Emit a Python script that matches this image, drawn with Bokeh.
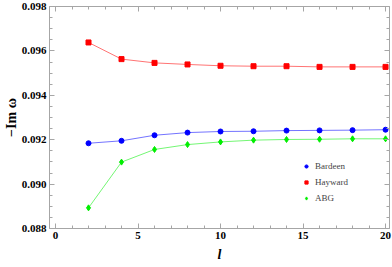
from bokeh.plotting import figure
from bokeh.models import (LinearAxis, FixedTicker, PrintfTickFormatter, Range1d,
                          Legend, LegendItem)
from bokeh.embed import file_html
from bokeh.resources import INLINE

l_vals = [2, 4, 6, 8, 10, 12, 14, 16, 18, 20]
bardeen = [0.09184, 0.09195, 0.09220, 0.09232, 0.09237, 0.09238, 0.09241, 0.09242, 0.09243, 0.09245]
hayward = [0.09638, 0.09563, 0.09546, 0.09539, 0.09533, 0.09531, 0.09531, 0.09528, 0.09528, 0.09528]
abg = [0.08893, 0.09099, 0.09156, 0.09178, 0.09190, 0.09198, 0.09201, 0.09202, 0.09204, 0.09204]

x_ticks = [0, 5, 10, 15, 20]
x_minor = list(range(0, 21))
y_ticks = [0.088, 0.090, 0.092, 0.094, 0.096, 0.098]
y_minor = [0.088 + 0.0005 * i for i in range(21)]

p = figure(width=392, height=267, output_backend="svg", toolbar_location=None,
           x_range=Range1d(-0.364, 20.24), y_range=Range1d(0.088, 0.098),
           min_border_left=49, min_border_right=3, min_border_top=6, min_border_bottom=39,
           x_axis_location=None, y_axis_location=None)
p.grid.visible = False
p.outline_line_color = None
p.background_fill_color = "white"

FRAME = "#a6a6a6"
FONT = "Liberation Serif"

def style(ax, labels=True):
    ax.axis_line_color = FRAME
    ax.major_tick_line_color = FRAME
    ax.minor_tick_line_color = FRAME
    ax.major_tick_in = 5
    ax.major_tick_out = 0
    ax.minor_tick_in = 3
    ax.minor_tick_out = 0
    ax.major_label_text_font = FONT
    ax.major_label_text_font_style = "bold"
    ax.major_label_text_color = "black"
    if labels:
        ax.major_label_text_font_size = "11px"
        ax.major_label_standoff = 3
    else:
        ax.major_label_overrides = {t: "" for t in ax.ticker.ticks}
        ax.major_label_standoff = 0
    ax.axis_label_text_font = FONT
    ax.axis_label_text_font_style = "bold"
    ax.axis_label_text_font_size = "14px"
    ax.axis_label_text_color = "black"

xb = LinearAxis(ticker=FixedTicker(ticks=x_ticks, minor_ticks=x_minor), axis_label="l")
style(xb)
xb.axis_label_text_font_style = "bold italic"
xb.axis_label_standoff = 5
xt = LinearAxis(ticker=FixedTicker(ticks=x_ticks, minor_ticks=x_minor))
style(xt, labels=False)
yl = LinearAxis(ticker=FixedTicker(ticks=y_ticks, minor_ticks=y_minor), axis_label="\u2212Im \u03c9",
                formatter=PrintfTickFormatter(format="%.3f"))
style(yl)
yl.axis_label_standoff = 0
yr = LinearAxis(ticker=FixedTicker(ticks=y_ticks, minor_ticks=y_minor))
style(yr, labels=False)

p.add_layout(xb, "below")
p.add_layout(xt, "above")
p.add_layout(yl, "left")
p.add_layout(yr, "right")

series = [("Bardeen", bardeen, "#0000ff", "circle"),
          ("Hayward", hayward, "#ff0000", "square"),
          ("ABG", abg, "#00ee00", "diamond")]
items = []
for name, ys, col, mk in series:
    p.line(l_vals, ys, line_color=col, line_width=1, line_alpha=0.55)
    sz = 6 if mk == "diamond" else 5
    r = p.scatter(l_vals, ys, marker=mk, size=sz, fill_color=col, line_color=col)
    items.append(LegendItem(label=name, renderers=[r]))

leg = Legend(items=items, location=(253, 25), border_line_color=None,
             background_fill_alpha=0, padding=0, margin=0, spacing=6,
             glyph_width=8, glyph_height=10, label_height=10, label_standoff=5,
             label_text_font=FONT, label_text_font_size="9px")
p.add_layout(leg, "center")

open("out.html", "w").write(file_html(p, INLINE))
